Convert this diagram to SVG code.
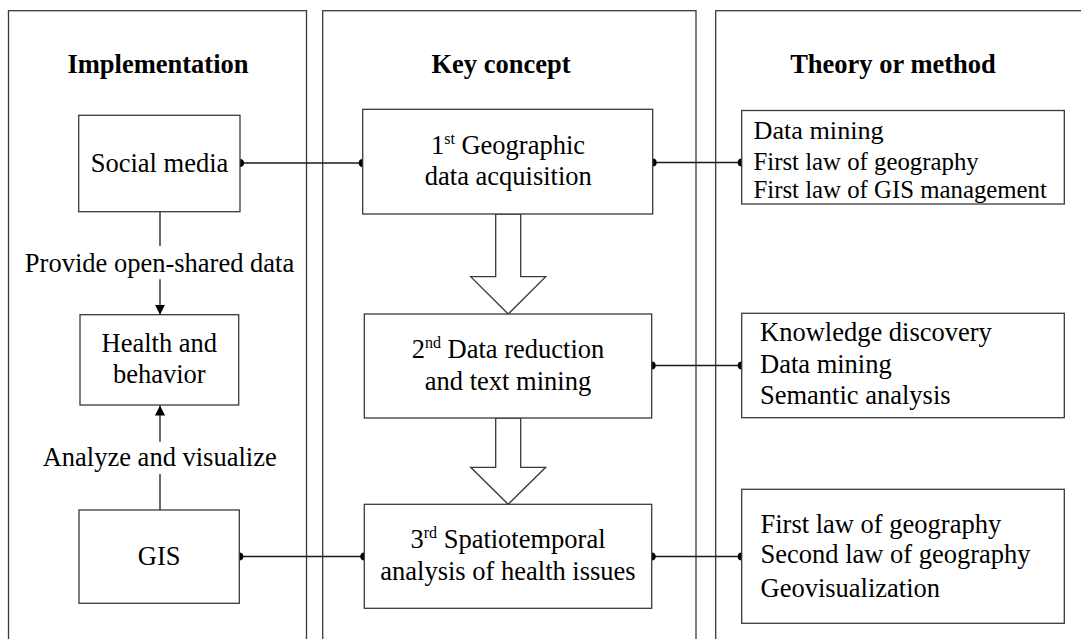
<svg xmlns="http://www.w3.org/2000/svg" width="1081" height="639" viewBox="0 0 1081 639">
<defs>
<style>
.panel{fill:none;stroke:#3a3a3a;stroke-width:1.3}
.box{fill:#fff;stroke:#3a3a3a;stroke-width:1.3}
.ln{fill:none;stroke:#1a1a1a;stroke-width:1.3}
.hollow{fill:#fff;stroke:#3a3a3a;stroke-width:1.3;stroke-linejoin:miter}
.dot{fill:#000}
text{font-family:'Liberation Serif','Tinos','Times New Roman','Nimbus Roman','DejaVu Serif',serif;font-size:26.5px;fill:#000}
.title{font-weight:bold;text-anchor:middle}
.c{text-anchor:middle}
.sup{font-size:16px}
.sm{font-size:24.8px}
</style>
<marker id="ah" markerWidth="10" markerHeight="10" refX="10" refY="5" orient="auto" markerUnits="userSpaceOnUse">
<path d="M0,0 L10,5 L0,10 Z" fill="#000"/>
</marker>
</defs>

<g id="panels">
<rect class="panel" x="8.5" y="10.7" width="298" height="650"/>
<rect class="panel" x="322.7" y="10.7" width="373.3" height="650"/>
<rect class="panel" x="715.7" y="10.7" width="400" height="650"/>
<text class="title" x="158" y="72.5">Implementation</text>
<text class="title" x="501" y="72.5">Key concept</text>
<text class="title" x="893" y="72.5">Theory or method</text>
</g>

<g id="connectors">
<line class="ln" x1="240" y1="163" x2="362.7" y2="163"/>
<line class="ln" x1="652.7" y1="162.5" x2="741.7" y2="162.5"/>
<line class="ln" x1="651.7" y1="365.5" x2="741.7" y2="365.5"/>
<line class="ln" x1="239.3" y1="556.5" x2="364.3" y2="556.5"/>
<line class="ln" x1="651.7" y1="556.5" x2="741.7" y2="556.5"/>
<line class="ln" x1="160" y1="211.7" x2="160" y2="246"/>
<line class="ln" x1="160" y1="279.3" x2="160" y2="314.7" marker-end="url(#ah)"/>
<line class="ln" x1="160" y1="510" x2="160" y2="474"/>
<line class="ln" x1="160" y1="441.7" x2="160" y2="405.5" marker-end="url(#ah)"/>
<text class="c" x="159.5" y="271.5">Provide open-shared data</text>
<text class="c" x="159.7" y="466">Analyze and visualize</text>
<path class="hollow" d="M495.7,214 L495.7,276.7 L470.7,276.7 L508.2,314 L545.7,276.7 L520.7,276.7 L520.7,214 Z"/>
<path class="hollow" d="M495.7,418 L495.7,467.3 L470.7,467.3 L508.2,504.3 L545.7,467.3 L520.7,467.3 L520.7,418 Z"/>
<circle class="dot" cx="240" cy="163" r="4"/>
<circle class="dot" cx="362.7" cy="163" r="4"/>
<circle class="dot" cx="652.7" cy="162.5" r="4"/>
<circle class="dot" cx="741.7" cy="162.5" r="4"/>
<circle class="dot" cx="651.7" cy="365.5" r="4"/>
<circle class="dot" cx="741.7" cy="365.5" r="4"/>
<circle class="dot" cx="239.3" cy="556.5" r="4"/>
<circle class="dot" cx="364.3" cy="556.5" r="4"/>
<circle class="dot" cx="651.7" cy="556.5" r="4"/>
<circle class="dot" cx="741.7" cy="556.5" r="4"/>
</g>

<g id="social-media">
<rect class="box" x="78.7" y="115.3" width="161.3" height="96.4"/>
<text class="c" x="159.5" y="172.3">Social media</text>
</g>

<g id="health-behavior">
<rect class="box" x="80" y="314.7" width="158.7" height="90.3"/>
<text class="c" x="159.3" y="351.7">Health and</text>
<text class="c" x="159.3" y="383.3">behavior</text>
</g>

<g id="gis">
<rect class="box" x="79" y="510" width="160.3" height="93.3"/>
<text class="c" x="159.2" y="565">GIS</text>
</g>

<g id="key1">
<rect class="box" x="362.7" y="109.3" width="290" height="104.7"/>
<text class="c" x="508" y="154">1<tspan class="sup" dy="-10">st</tspan><tspan dy="10"> Geographic</tspan></text>
<text class="c" x="508.3" y="185">data acquisition</text>
</g>

<g id="key2">
<rect class="box" x="364.3" y="314" width="287.4" height="104"/>
<text class="c" x="508" y="358.3">2<tspan class="sup" dy="-10">nd</tspan><tspan dy="10"> Data reduction</tspan></text>
<text class="c" x="508" y="390">and text mining</text>
</g>

<g id="key3">
<rect class="box" x="364.3" y="504.3" width="287.4" height="104"/>
<text class="c" x="508" y="548.3">3<tspan class="sup" dy="-10">rd</tspan><tspan dy="10"> Spatiotemporal</tspan></text>
<text class="c" x="508" y="580">analysis of health issues</text>
</g>

<g id="theory1">
<rect class="box" x="741.7" y="110.5" width="322.6" height="93.5"/>
<text x="753.5" y="139.3" style="font-size:26.2px">Data mining</text>
<text class="sm" x="753.5" y="170">First law of geography</text>
<text class="sm" x="753.5" y="198">First law of GIS management</text>
</g>

<g id="theory2">
<rect class="box" x="741.7" y="313.3" width="322.6" height="104.4"/>
<text x="760" y="340.7">Knowledge discovery</text>
<text x="760" y="373.3">Data mining</text>
<text x="760" y="404.3">Semantic analysis</text>
</g>

<g id="theory3">
<rect class="box" x="741.7" y="489.3" width="322.6" height="134"/>
<text x="760.5" y="533.3">First law of geography</text>
<text x="760.5" y="563.3">Second law of geography</text>
<text x="760.5" y="596.5">Geovisualization</text>
</g>
</svg>
